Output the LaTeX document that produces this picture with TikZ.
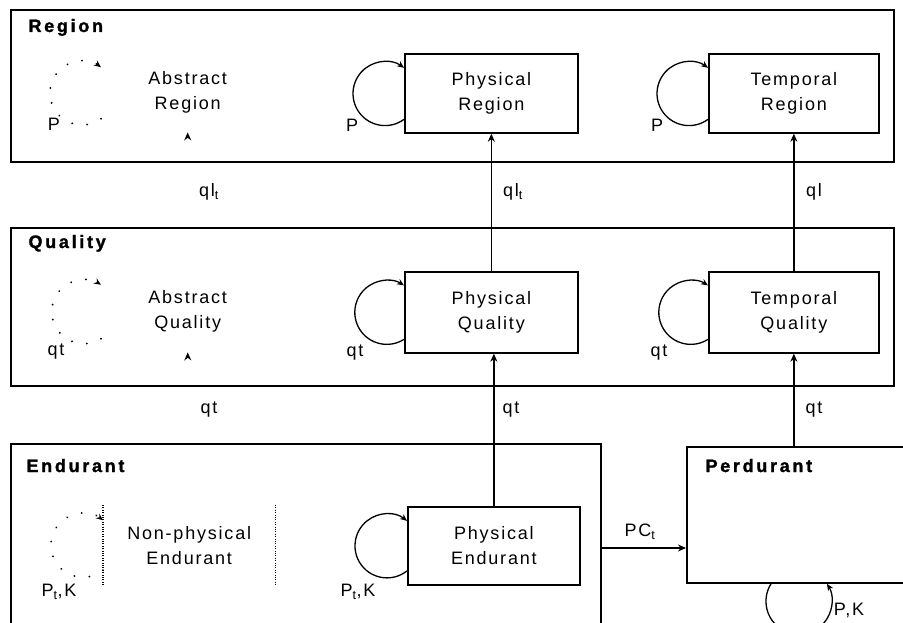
\documentclass[tikz,border=0pt]{standalone}
\usepackage{fontspec}
\setmainfont{Liberation Sans}[LetterSpace=10,BoldFeatures={LetterSpace=15,FakeBold=1.5}]
\usetikzlibrary{arrows.meta}
\tikzset{
  every node/.style={font=\fontsize{18}{25}\selectfont},
  bigbox/.style={draw, line width=1.8pt, anchor=north west, inner sep=0pt},
  inbox/.style={draw, line width=1.7pt, anchor=north west, inner sep=0pt, align=center},
  hidbox/.style={anchor=north west, inner sep=0pt, align=center},
  title/.style={anchor=base west, font=\fontsize{18}{20}\selectfont\bfseries},
  lab/.style={inner sep=0pt},
  arr/.style={line width=1.6pt, -{Stealth[length=8pt,width=7pt]}},
  loopsty/.style={line width=1.3pt, -{Stealth[length=7pt,width=6pt]}},
  dotloop/.style={line width=2pt, line cap=round, dash pattern=on 0.1pt off 15pt, -{Stealth[length=7pt,width=6pt]}},
  ghost/.style={line width=1.6pt, dash pattern=on 0pt off 1000pt, -{Stealth[length=8pt,width=7pt]}},
  densedot/.style={line width=1.3pt, dash pattern=on 1pt off 1.4pt}
}
\begin{document}
\begin{tikzpicture}[x=1pt,y=1pt]
\useasboundingbox (0,0) rectangle (903,-623);
\clip (0,0) rectangle (903,-623);
% big boxes
\node[bigbox, minimum width=883pt, minimum height=152pt] (region) at (10,-9) {};
\node[bigbox, minimum width=883pt, minimum height=158pt] (quality) at (10,-227) {};
\node[bigbox, minimum width=590pt, minimum height=220pt] (endbox) at (10,-443) {};
\node[bigbox, minimum width=240pt, minimum height=136pt] (perd) at (686,-446) {};
\node[title] (tregion) at (25,-32) {Region};
\node[title] (tquality) at (25,-248) {Quality};
\node[title] (tend) at (23,-472) {Endurant};
\node[title] (tperd) at (702,-472) {Perdurant};
% inner boxes
\node[hidbox, minimum width=173pt, minimum height=79pt] (ar) at (101,-53) {Abstract\\Region};
\node[inbox, minimum width=173pt, minimum height=79pt] (pr) at (404,-53) {Physical\\Region};
\node[inbox, minimum width=170pt, minimum height=79pt] (tr) at (708,-53) {Temporal\\Region};
\node[hidbox, minimum width=173pt, minimum height=81pt] (aq) at (101,-271) {Abstract\\Quality};
\node[inbox, minimum width=173pt, minimum height=81pt] (pq) at (404,-271) {Physical\\Quality};
\node[inbox, minimum width=170pt, minimum height=81pt] (tq) at (708,-271) {Temporal\\Quality};
\node[hidbox, minimum width=172pt, minimum height=80pt] (npe) at (103,-505) {Non-physical\\Endurant};
\node[inbox, minimum width=172pt, minimum height=78pt] (pe) at (407,-506) {Physical\\Endurant};
\draw[densedot] (npe.north west) -- (npe.south west);
\draw[densedot] (npe.north east) -- (npe.south east);
% vertical connectors
\draw[arr] (pq.north) -- (pq.north |- pr.south);
\draw[arr] (tq.north) -- (tq.north |- tr.south);
\draw[arr] (pe.north) -- (pe.north |- pq.south);
\draw[arr] (perd.north -| tq.south) -- (tq.south);
\draw[ghost] (aq.north) -- (ar.south);
\draw[ghost] (npe.north) -- (aq.south);
\coordinate (pcy) at (0,-548);
\draw[arr] (endbox.east |- pcy) -- (perd.west |- pcy);
% connector labels
\node[lab] (l1) at (209,-192) {ql\textsubscript{t}};
\node[lab] (l2) at (513,-192) {ql\textsubscript{t}};
\node[lab] (l3) at (814,-192) {ql};
\node[lab] (l4) at (209,-410) {qt};
\node[lab] (l5) at (511,-410) {qt};
\node[lab] (l6) at (814,-410) {qt};
\node[lab] (l7) at (640,-532) {PC\textsubscript{t}};
% loops
\draw[dotloop] ([yshift=-26pt]ar.west) arc[start angle=-53.6, end angle=-306.4, radius=32pt];
\draw[loopsty] ([yshift=-26pt]pr.west) arc[start angle=-53.6, end angle=-306.4, radius=32pt];
\draw[loopsty] ([yshift=-26pt]tr.west) arc[start angle=-53.6, end angle=-306.4, radius=32pt];
\draw[dotloop] ([yshift=-27pt]aq.west) arc[start angle=-57.5, end angle=-302.5, radius=32pt];
\draw[loopsty] ([yshift=-27pt]pq.west) arc[start angle=-57.5, end angle=-302.5, radius=32pt];
\draw[loopsty] ([yshift=-27pt]tq.west) arc[start angle=-57.5, end angle=-302.5, radius=32pt];
\draw[dotloop] ([yshift=-25pt]npe.west) arc[start angle=-51.3, end angle=-308.7, radius=32pt];
\draw[loopsty] ([yshift=-25pt]pe.west) arc[start angle=-51.3, end angle=-308.7, radius=32pt];
\draw[loopsty] ([xshift=85pt]perd.south west) arc[start angle=148, end angle=392, radius=33pt];
% loop labels
\node[lab] (p1) at (54,-124) {P};
\node[lab] (p2) at (352,-125) {P};
\node[lab] (p3) at (657,-125) {P};
\node[lab] (q1) at (56,-352) {qt};
\node[lab] (q2) at (355,-353) {qt};
\node[lab] (q3) at (659,-353) {qt};
\node[lab] (k1) at (59,-592) {P\textsubscript{t},K};
\node[lab] (k2) at (358,-592) {P\textsubscript{t},K};
\node[lab] (k3) at (849,-610) {P,K};
\end{tikzpicture}
\end{document}
